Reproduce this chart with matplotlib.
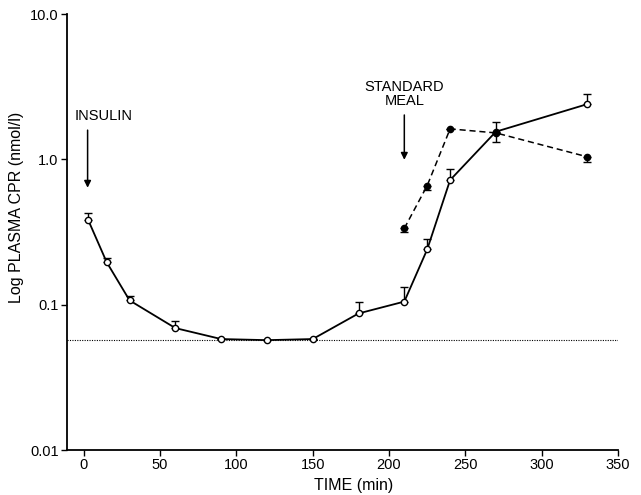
import matplotlib
matplotlib.use("Agg")
import matplotlib.pyplot as plt
import numpy as np

# Open circles (solid line)
t_open = [3, 15, 30, 60, 90, 120, 150, 180, 210, 225, 240, 270, 330]
cpr_open = [0.38, 0.196, 0.107, 0.069, 0.058, 0.057, 0.058, 0.087, 0.105, 0.24, 0.72, 1.55, 2.4]
err_open_up = [0.05, 0.015, 0.008, 0.008, 0, 0, 0, 0.017, 0.028, 0.045, 0.14, 0.25, 0.41]

# Filled circles (dashed line)
t_fill = [210, 225, 240, 270, 330]
cpr_fill = [0.335, 0.66, 1.62, 1.52, 1.04]
err_fill_dn = [0.02, 0.04, 0, 0.2, 0.08]

baseline = 0.057

x_ticks = [0, 50, 100, 150, 200, 250, 300, 350]
y_ticks = [0.01, 0.1, 1.0, 10.0]
y_ticklabels = ["0.01", "0.1", "1.0", "10.0"]

plt.rcParams['font.family'] = ['Liberation Sans', 'DejaVu Sans']

fig = plt.figure(figsize=(6.41, 4.95), dpi=100)
ax = fig.add_axes([67/641, 1-450/495, (618-67)/641, (450-14)/495])

ax.set_yscale('log')
ax.set_xlim(-11, 350)
ax.set_ylim(0.01, 10)

ax.axhline(baseline, color='black', lw=0.8, ls=(0, (1, 1.2)), zorder=1)

zeros = [0]*len(t_open)
ax.errorbar(t_open, cpr_open, yerr=[zeros, err_open_up], fmt='none', ecolor='black',
            elinewidth=1, capsize=3, capthick=1, zorder=2)
ax.plot(t_open, cpr_open, '-', color='black', lw=1.3, marker='o', ms=4.5,
        mfc='white', mec='black', mew=1, zorder=3)

zf = [0]*len(t_fill)
ax.errorbar(t_fill, cpr_fill, yerr=[err_fill_dn, zf], fmt='none', ecolor='black',
            elinewidth=1, capsize=3, capthick=1, zorder=2)
ax.plot(t_fill, cpr_fill, '--', color='black', lw=1.1, dashes=(4, 2.5), marker='o', ms=4.5,
        mfc='black', mec='black', zorder=4)

for s in ['top', 'right']:
    ax.spines[s].set_visible(False)
ax.spines['left'].set_linewidth(1.3)
ax.spines['bottom'].set_linewidth(1.3)

ax.set_xticks(x_ticks)
ax.set_xticklabels([str(v) for v in x_ticks])
ax.set_yticks(y_ticks)
ax.set_yticklabels(y_ticklabels)
ax.yaxis.set_minor_locator(matplotlib.ticker.NullLocator())
ax.tick_params(axis='both', direction='out', length=4, width=1, labelsize=10.5, pad=2)

ax.set_xlabel('TIME (min)', fontsize=11.5)
ax.xaxis.set_label_coords((354-67)/551, -(478-450)/436)
ax.set_ylabel('Log PLASMA CPR (nmol/l)', fontsize=11.5)
ax.yaxis.set_label_coords(-(67-24)/551, (450-207)/436)

# Annotations
ax.annotate('', xy=(2.5, 0.61), xytext=(2.5, 1.66),
            arrowprops=dict(arrowstyle='-|>', color='black', lw=1.1, mutation_scale=10))
ax.text(13, 1.77, 'INSULIN', ha='center', va='bottom', fontsize=10.5)

ax.annotate('', xy=(210, 0.95), xytext=(210, 2.11),
            arrowprops=dict(arrowstyle='-|>', color='black', lw=1.1, mutation_scale=10))
ax.text(210, 2.25, 'STANDARD\nMEAL', ha='center', va='bottom', fontsize=10.5, linespacing=1.05)

fig.savefig('out.png', dpi=100)
